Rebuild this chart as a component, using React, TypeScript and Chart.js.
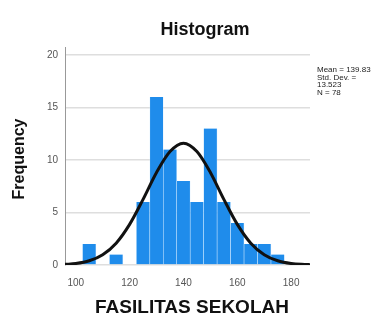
import React, { useEffect, useRef } from "react";
import { Chart, registerables } from "chart.js";

Chart.register(...registerables);

// Histogram bins (centers) and frequencies
const binCenters = [105, 110, 115, 120, 125, 130, 135, 140, 145, 150, 155, 160, 165, 170, 175];
const frequencies = [2, 0, 1, 0, 6, 16, 11, 8, 6, 13, 6, 4, 2, 2, 1];

// Normal curve
const curveX = [96, 100, 105, 110, 115, 120, 125, 130, 135, 140, 145, 150, 155, 160, 165, 170, 175, 180, 185, 187];
const curveY = [0.06, 0.14, 0.4, 0.98, 2.08, 3.87, 6.25, 8.81, 10.8, 11.6, 10.8, 8.81, 6.25, 3.87, 2.08, 0.98, 0.4, 0.14, 0.05, 0.03];

const xTicks = [100, 120, 140, 160, 180];
const yTicks = [0, 5, 10, 15, 20];

const titleText = "Histogram";
const xTitle = "FASILITAS SEKOLAH";
const yTitle = "Frequency";
const statsLines = ["Mean = 139.83", "Std. Dev. =", "13.523", "N = 78"];

const FONT = "'Liberation Sans', Arial, sans-serif";

const textPlugin = {
  id: "texts",
  afterDraw(chart: any) {
    const ctx = chart.ctx;
    ctx.save();
    ctx.fillStyle = "#111";
    ctx.textAlign = "center";
    ctx.textBaseline = "alphabetic";
    ctx.font = `bold 18px ${FONT}`;
    ctx.fillText(titleText, 205, 35);
    ctx.font = `bold 19px ${FONT}`;
    ctx.fillText(xTitle, 192, 313);
    ctx.save();
    ctx.translate(24, 159);
    ctx.rotate(-Math.PI / 2);
    ctx.font = `bold 16px ${FONT}`;
    ctx.fillText(yTitle, 0, 0);
    ctx.restore();
    ctx.textAlign = "left";
    ctx.font = `8px ${FONT}`;
    ctx.fillStyle = "#222";
    statsLines.forEach((s, i) => ctx.fillText(s, 317, 72 + i * 7.5));
    ctx.restore();
  },
};

export default function App() {
  const ref = useRef<HTMLCanvasElement>(null);
  useEffect(() => {
    if (!ref.current) return;
    const chart = new Chart(ref.current, {
      type: "bar",
      data: {
        datasets: [
          {
            type: "line",
            data: curveX.map((x, i) => ({ x, y: curveY[i] })),
            borderColor: "#111",
            borderWidth: 3,
            pointRadius: 0,
            cubicInterpolationMode: "monotone",
            fill: false,
            order: 0,
          } as any,
          {
            type: "bar",
            data: binCenters.map((x, i) => ({ x, y: frequencies[i] })),
            backgroundColor: "#1f8ceb",
            borderColor: "rgba(200,230,255,0.7)",
            borderWidth: { left: 0.6, right: 0.6, top: 0, bottom: 0 },
            borderSkipped: false,
            barPercentage: 1,
            categoryPercentage: 1,
            order: 1,
          } as any,
        ],
      },
      options: {
        responsive: false,
        animation: false,
        layout: { padding: { left: 0, right: 75, top: 47, bottom: 0 } },
        plugins: { legend: { display: false }, tooltip: { enabled: false }, title: { display: false } },
        scales: {
          x: {
            type: "linear",
            min: 96,
            max: 187,
            offset: false,
            grid: { display: false },
            border: { display: false },
            ticks: { color: "#555", font: { size: 10, family: FONT }, padding: 4, maxRotation: 0 },
            afterBuildTicks: (s: any) => { s.ticks = xTicks.map((v) => ({ value: v })); },
            afterFit: (s: any) => { s.height = 56; },
          },
          y: {
            min: 0,
            max: 20.76,
            grid: { color: "#dedede", lineWidth: 1.5, drawTicks: false },
            border: { display: true, color: "#999", width: 1 },
            ticks: { color: "#555", font: { size: 10, family: FONT }, padding: 7 },
            afterBuildTicks: (s: any) => { s.ticks = yTicks.map((v) => ({ value: v })); },
            afterFit: (s: any) => { s.width = 65; },
          },
        },
      } as any,
      plugins: [textPlugin],
    });
    return () => chart.destroy();
  }, []);
  return (
    <div style={{ position: "fixed", left: 0, top: 0, width: 385, height: 321, background: "#fff" }}>
      <canvas ref={ref} width={385} height={321} style={{ width: 385, height: 321 }} />
    </div>
  );
}
